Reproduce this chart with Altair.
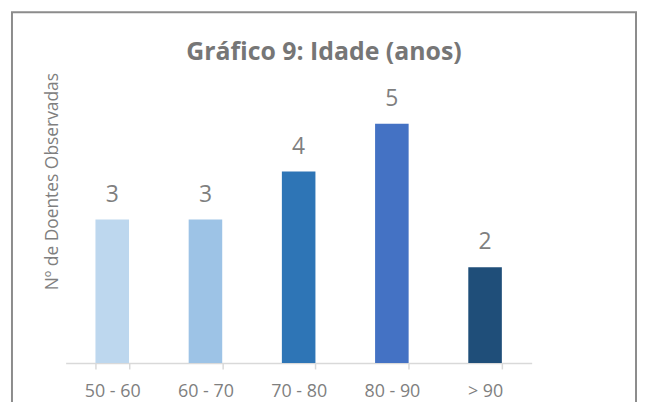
import altair as alt
import pandas as pd

categories = ["50 - 60", "60 - 70", "70 - 80", "80 - 90", "> 90"]
counts = [3, 3, 4, 5, 2]
colors = ["#BDD7EE", "#9DC3E6", "#2E75B6", "#4472C4", "#1F4E79"]
title_text = "Gráfico 9: Idade (anos)"
y_title = "Nº de Doentes Observadas"

df = pd.DataFrame({"faixa": categories, "n": counts, "cor": colors})

FONT = "Open Sans"
GREY = "#7f7f7f"

x_enc = alt.X(
    "faixa:N", sort=categories, title=None,
    scale=alt.Scale(paddingInner=0.64, paddingOuter=0.32),
    axis=alt.Axis(labelAngle=0, labelFont=FONT, labelFontSize=18, labelColor=GREY,
                  labelPadding=14, domainColor="#d9d9d9", domainWidth=1.5,
                  tickColor="#d9d9d9", tickWidth=1.5, tickSize=6, tickBand="extent"),
)
y_enc = alt.Y(
    "n:Q", scale=alt.Scale(domain=[0, 6]), title=y_title,
    axis=alt.Axis(labels=False, ticks=False, domain=False, grid=False,
                  titleFont=FONT, titleFontSize=17.5, titleFontWeight="normal",
                  titleColor=GREY, titleX=-13, titleY=106, titleAngle=270,
                  titleBaseline="middle", titleAlign="center"),
)

bars = alt.Chart(df).mark_bar().encode(
    x=x_enc, y=y_enc, color=alt.Color("cor:N", scale=None)
)
labels = alt.Chart(df).mark_text(
    font=FONT, fontSize=23, color=GREY, baseline="alphabetic", dy=-18
).encode(x=alt.X("faixa:N", sort=categories), y="n:Q", text="n:Q")

one = pd.DataFrame({"k": [0]})
border = alt.Chart(one).mark_rect(fill=None, stroke="#8c8c8c", strokeWidth=2).encode(
    x=alt.value(-54), x2=alt.value(574), y=alt.value(-64), y2=alt.value(340)
)
title = alt.Chart(one).mark_text(
    text=title_text, font=FONT, fontSize=25, fontWeight="bold", color="#767676",
    align="center", baseline="alphabetic"
).encode(x=alt.value(260), y=alt.value(-16))

chart = alt.layer(border, bars, labels, title).properties(
    width=469, height=289, autosize="none",
    padding={"left": 58, "top": 67, "right": 107, "bottom": 38},
).configure_view(stroke=None)

chart.save("out.html", embed_options={"renderer": "svg", "actions": False})
